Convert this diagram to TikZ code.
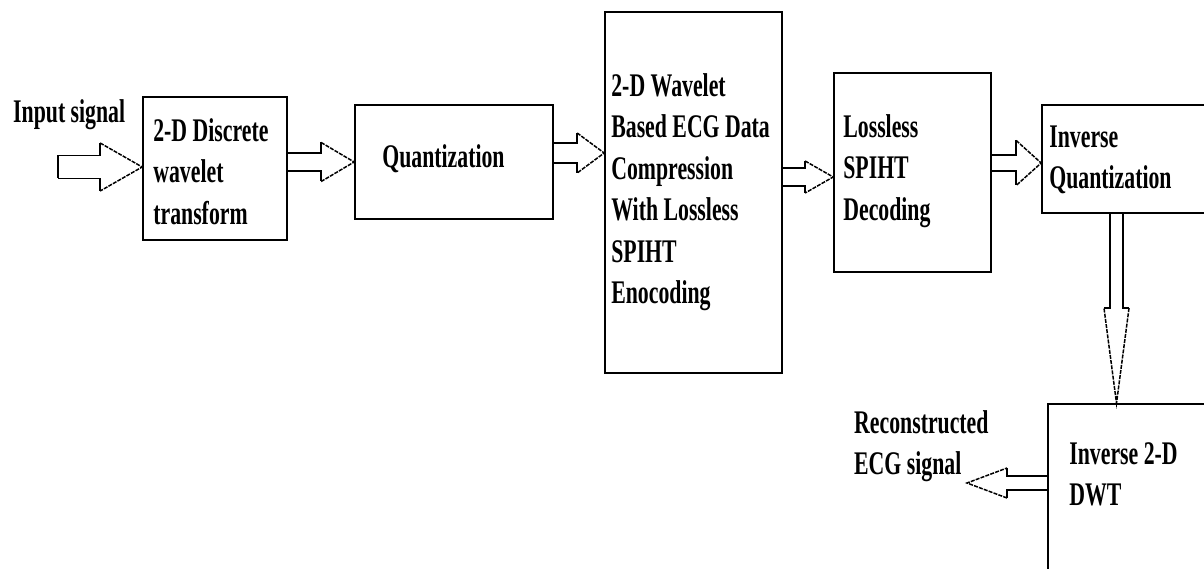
\documentclass[tikz,border=0pt]{standalone}
\usepackage{fontspec}
\setmainfont{Liberation Serif}
\usepackage{graphicx}
\usetikzlibrary{calc}
\newcommand\sqz[1]{\scalebox{0.66}[1]{\begin{tabular}[t]{@{}l@{}}#1\end{tabular}}}
\newcommand\blockarrow[5]{%
  \coordinate (ba-h) at ($(#2)!#5!(#1)$);
  \coordinate (ba-ta) at ($(#1)!#3!90:(#2)$);
  \coordinate (ba-tb) at ($(#1)!#3!-90:(#2)$);
  \coordinate (ba-sa) at ($(ba-h)!#3!90:(#2)$);
  \coordinate (ba-sb) at ($(ba-h)!#3!-90:(#2)$);
  \coordinate (ba-ha) at ($(ba-h)!#4!90:(#2)$);
  \coordinate (ba-hb) at ($(ba-h)!#4!-90:(#2)$);
  \draw[arrline] (ba-ta) -- (ba-sa) -- (ba-ha);
  \draw[arrline] (ba-tb) -- (ba-sb) -- (ba-hb);
  \draw[arrline,headdash] (ba-ha) -- (#2) -- (ba-hb);
}
\begin{document}
\begin{tikzpicture}[x=1pt,y=-1pt,
  box/.style={draw=black,line width=1.7pt,inner sep=0pt,fill=none},
  txt/.style={inner sep=0pt,anchor=base west,font=\fontsize{33}{41.5}\selectfont\bfseries},
  arrline/.style={draw=black,line width=1.5pt,line join=miter},
  headdash/.style={dash pattern=on 4pt off 1.2pt}]
\useasboundingbox (0,0) rectangle (1204,569);
\clip (0,0) rectangle (1204,569);
\fill[white] (0,0) rectangle (1204,569);
% boxes
\node[box,minimum width=144,minimum height=143] (b1) at (215,168.5) {};
\node[box,minimum width=198,minimum height=114] (b2) at (454,162) {};
\node[box,minimum width=177,minimum height=361] (b3) at (693.5,192.5) {};
\node[box,minimum width=157,minimum height=199] (b4) at (912.5,172.5) {};
\node[box,minimum width=218,minimum height=108] (b5) at (1151,159) {};
\node[box,minimum width=212,minimum height=236] (b6) at (1154,522) {};
% texts
\node[txt] (t1) at ($(b1.north west)+(11,45)$) {\sqz{2-D Discrete\\wavelet\\transform}};
\node[txt] (t2) at ($(b2.north west)+(28,63)$) {\sqz{Quantization}};
\node[txt] (t3) at ($(b3.north west)+(7,85)$) {\sqz{2-D Wavelet\\Based ECG Data\\Compression\\With Lossless\\SPIHT\\Enocoding}};
\node[txt] (t4) at ($(b4.north west)+(10,65)$) {\sqz{Lossless\\SPIHT\\Decoding}};
\node[txt] (t5) at ($(b5.north west)+(8,43)$) {\sqz{Inverse\\Quantization}};
\node[txt] (t6) at ($(b6.north west)+(22,61)$) {\sqz{Inverse 2-D\\DWT}};
% free ends
\coordinate (in) at (58,167);
\coordinate (out) at (967,483);
\node[txt] (lin) at ($(in)+(-45,-44)$) {\sqz{Input signal}};
\node[txt] (lout) at ($(out)+(-113,-50)$) {\sqz{Reconstructed\\ECG signal}};
% arrow anchor points
\coordinate (a1e) at ($(b1.west)+(0,-1.5)$);
\coordinate (a2s) at ($(b1.east)+(0,-6.5)$);
\coordinate (a2e) at (b2.west |- a2s);
\coordinate (a3s) at ($(b2.east)+(0,-9)$);
\coordinate (a3e) at (b3.west |- a3s);
\coordinate (a4s) at ($(b3.east)+(0,-15.5)$);
\coordinate (a4e) at (b4.west |- a4s);
\coordinate (a5s) at ($(b4.east)+(0,-9.5)$);
\coordinate (a5e) at (b5.west |- a5s);
\coordinate (a6s) at ($(b5.south)+(-34.5,0)$);
\coordinate (a6e) at (a6s |- b6.north);
\coordinate (a7s) at ($(b6.west)+(0,-39)$);
% arrows
\blockarrow{in}{a1e}{11.5pt}{24pt}{42pt}
\draw[arrline] (ba-ta) -- (ba-tb);
\blockarrow{a2s}{a2e}{9pt}{19.5pt}{33pt}
\blockarrow{a3s}{a3e}{10pt}{20pt}{27pt}
\blockarrow{a4s}{a4e}{9pt}{16pt}{28pt}
\blockarrow{a5s}{a5e}{8pt}{22.5pt}{25pt}
\blockarrow{a6s}{a6e}{6.5pt}{12.5pt}{95pt}
\blockarrow{a7s}{out}{7pt}{15pt}{40pt}
\end{tikzpicture}
\end{document}
